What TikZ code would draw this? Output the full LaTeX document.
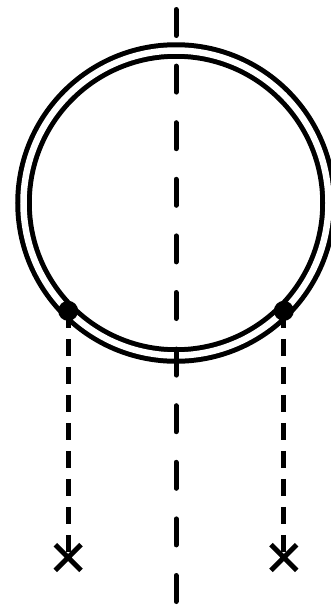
\documentclass[tikz,border=0pt]{standalone}
\usetikzlibrary{shapes.misc,calc}

\begin{document}
\begin{tikzpicture}[x=0.75pt,y=-0.75pt,
   ring/.style={line width=3.75pt,double,double distance=4.875pt},
   axis line/.style={line width=3.75pt,line cap=round,dash pattern=on 19.5pt off 22.95pt},
   drop line/.style={line width=3.75pt,dash pattern=on 13.2pt off 7.8pt},
   vertex/.style={circle,fill,inner sep=0pt,minimum size=15pt},
   source/.style={cross out,draw,line width=3.75pt,inner sep=0pt,minimum size=15.5pt}]
  \useasboundingbox (0,0) rectangle (330,607);
  \coordinate (O) at (176,203);
  \coordinate (top) at (176,9.5);
  \coordinate (bot) at (176,602.5);
  \coordinate (pL) at ($(O)+(135:152.5)$);
  \coordinate (pR) at ($(O)+(45:152.5)$);
  \node[source] (xL) at (pL |- 0,557.5) {};
  \node[source] (xR) at (pR |- 0,557.5) {};
  % loop and the two legs
  \draw[ring] (O) circle (152.5);
  \draw[drop line] (pL) -- (xL.center);
  \draw[drop line] (pR) -- (xR.center);
  \node[vertex] (vL) at (pL) {};
  \node[vertex] (vR) at (pR) {};
  \draw[axis line] (top) -- (bot);
\end{tikzpicture}
\end{document}
